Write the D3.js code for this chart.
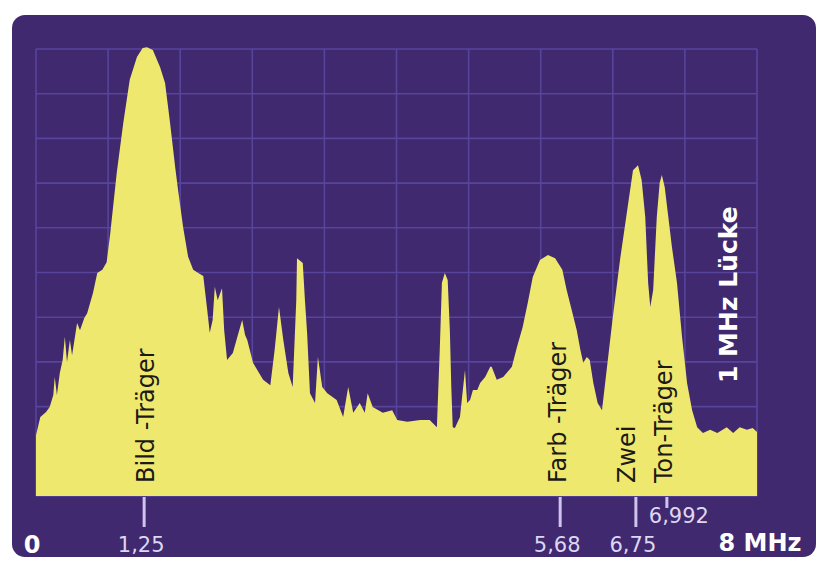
<!DOCTYPE html>
<html>
<head>
<meta charset="utf-8">
<script src="https://cdn.jsdelivr.net/npm/d3@7"></script>
<style>
  body { margin: 0; background: #fff; }
  svg { display: block; }
</style>
</head>
<body>
<div id="chart"></div>
<script>
// Spectrum of an analog TV channel (screen graticule: 10 x 10 divisions)
// trace position in divisions (x) and level in divisions (y)
const traceX = [0,0.06,0.14,0.19,0.24,0.26,0.29,0.33,0.37,0.40,0.43,0.47,0.50,0.57,0.61,0.67,0.71,0.79,0.85,0.92,0.98,
  1.03,1.12,1.21,1.30,1.40,1.48,1.54,1.62,1.72,1.79,1.86,1.93,1.97,2.04,2.11,2.18,2.25,2.32,2.37,2.41,2.45,2.48,2.52,
  2.58,2.61,2.65,2.73,2.80,2.86,2.90,2.93,3.01,3.15,3.25,3.31,3.37,3.43,3.50,3.56,3.61,3.62,3.70,3.73,3.76,3.80,3.87,
  3.91,3.97,4.04,4.17,4.26,4.33,4.40,4.49,4.56,4.60,4.67,4.81,4.94,5.01,5.15,5.33,5.46,5.56,5.60,5.63,5.67,5.71,5.74,
  5.76,5.78,5.81,5.88,5.95,5.98,6.02,6.06,6.12,6.16,6.23,6.30,6.32,6.39,6.48,6.60,6.67,6.75,6.82,6.89,6.99,7.10,7.20,
  7.30,7.36,7.43,7.50,7.55,7.59,7.64,7.68,7.73,7.79,7.85,7.92,8.00,8.10,8.20,8.28,8.35,8.40,8.45,8.49,8.52,8.56,8.61,
  8.65,8.68,8.72,8.77,8.82,8.89,8.96,9.03,9.10,9.17,9.25,9.35,9.45,9.58,9.67,9.76,9.86,9.94,10.00];
const traceY = [1.36,1.77,1.88,1.99,2.26,2.66,2.26,2.75,3.04,3.56,3.00,3.49,3.15,3.87,3.71,3.98,4.09,4.54,4.99,5.06,5.23,
  5.88,7.23,8.34,9.31,9.82,10.02,10.04,9.98,9.60,9.24,8.34,7.36,6.85,6.02,5.35,5.06,4.99,4.92,4.23,3.65,3.94,4.68,4.38,
  4.65,3.71,3.04,3.20,3.60,3.94,3.60,3.49,2.98,2.60,2.48,3.27,4.23,3.49,2.75,2.44,4.38,5.32,5.21,4.38,3.65,2.30,2.08,
  3.11,2.44,2.30,2.15,1.77,2.44,1.86,2.08,1.86,2.30,1.99,1.86,1.92,1.70,1.66,1.70,1.70,1.54,3.27,4.77,4.99,4.83,3.71,
  2.44,1.54,1.52,1.77,2.82,2.08,2.15,2.37,2.37,2.53,2.66,2.89,2.89,2.60,2.66,2.89,3.33,3.78,4.32,4.90,5.28,5.39,5.32,
  5.06,4.61,4.16,3.71,3.27,2.98,3.11,3.04,2.53,2.08,1.92,2.89,4.00,5.28,6.40,7.29,7.40,7.07,6.24,4.77,4.23,4.61,6.24,
  7.00,7.18,6.91,6.24,5.57,4.77,3.56,2.53,1.92,1.54,1.41,1.48,1.41,1.54,1.41,1.54,1.48,1.52,1.43];

// carrier frequencies (MHz) and where they sit on the graticule (divisions)
const markerMHz = [0, 1.25, 5.68, 6.75, 6.992, 8];
const markerDiv = [0, 1.50, 7.27, 8.32, 8.75, 10];
const tickMHz = [1.25, 5.68, 6.75, 6.992];
const tickLabels = ["1,25", "5,68", "6,75", "6,992"];
const carrierNames = ["Bild -Träger", "Farb -Träger", "Zwei", "Ton-Träger"];
const gapLabel = "1 MHz Lücke";

const W = 818, H = 561;
const svg = d3.select('#chart').append('svg').attr('width', W).attr('height', H);

svg.append('rect').attr('x', 12).attr('y', 15).attr('width', 804).attr('height', 542)
  .attr('rx', 13).attr('fill', '#41296f');

const gx = d3.scaleLinear().domain([0, 10]).range([36, 757]);
const gy = d3.scaleLinear().domain([0, 10]).range([496, 49]);
const freq = d3.scaleLinear().domain(markerMHz).range(markerDiv);
const fx = f => gx(freq(f));

// graticule
const grid = svg.append('g').attr('stroke', '#5a48a2').attr('stroke-width', 1.6).attr('opacity', 0.9);
d3.range(11).forEach(i => {
  grid.append('line').attr('x1', gx(i)).attr('x2', gx(i)).attr('y1', gy(0)).attr('y2', gy(10));
  grid.append('line').attr('x1', gx(0)).attr('x2', gx(10)).attr('y1', gy(i)).attr('y2', gy(i));
});

const pts = traceX.map((x, i) => ({x: x, y: traceY[i]}));
const area = d3.area().x(d => gx(d.x)).y0(gy(0)).y1(d => gy(d.y));
svg.append('path').datum(pts).attr('d', area).attr('fill', '#efe86e');

// frequency ticks
const tickLen = t => t === "6,992" ? 11 : 30;
tickMHz.forEach((f, i) => {
  svg.append('line').attr('x1', fx(f)).attr('x2', fx(f))
    .attr('y1', gy(0) + 1).attr('y2', gy(0) + 1 + tickLen(tickLabels[i]))
    .attr('stroke', '#cdc5ee').attr('stroke-width', 3);
  const raised = tickLabels[i] === "6,992";
  svg.append('text').attr('x', fx(f) + (raised ? 12 : -3)).attr('y', raised ? 523 : 552)
    .attr('text-anchor', 'middle').attr('font-family', 'DejaVu Sans').attr('font-size', 21)
    .attr('fill', '#dcd7f2').text(tickLabels[i]);
});

// carrier names, rotated
const nameDx = [10, 6, -1, 5];
carrierNames.forEach((n, i) => {
  svg.append('text')
    .attr('transform', `translate(${fx(tickMHz[i]) + nameDx[i]},483) rotate(-90)`)
    .attr('font-family', 'DejaVu Sans').attr('font-size', 24).attr('fill', '#1b1a16').text(n);
});

svg.append('text').attr('transform', `translate(737,383) rotate(-90)`)
  .attr('font-family', 'DejaVu Sans').attr('font-weight', 'bold').attr('font-size', 25)
  .attr('fill', '#fff').text(gapLabel);

svg.append('text').attr('x', fx(0) - 4).attr('y', 553).attr('text-anchor', 'middle')
  .attr('font-family', 'DejaVu Sans').attr('font-weight', 'bold').attr('font-size', 24)
  .attr('fill', '#fff').text('0');
svg.append('text').attr('x', fx(8) + 3).attr('y', 551).attr('text-anchor', 'middle')
  .attr('font-family', 'DejaVu Sans').attr('font-weight', 'bold').attr('font-size', 24)
  .attr('fill', '#fff').text('8 MHz');
</script>
</body>
</html>
